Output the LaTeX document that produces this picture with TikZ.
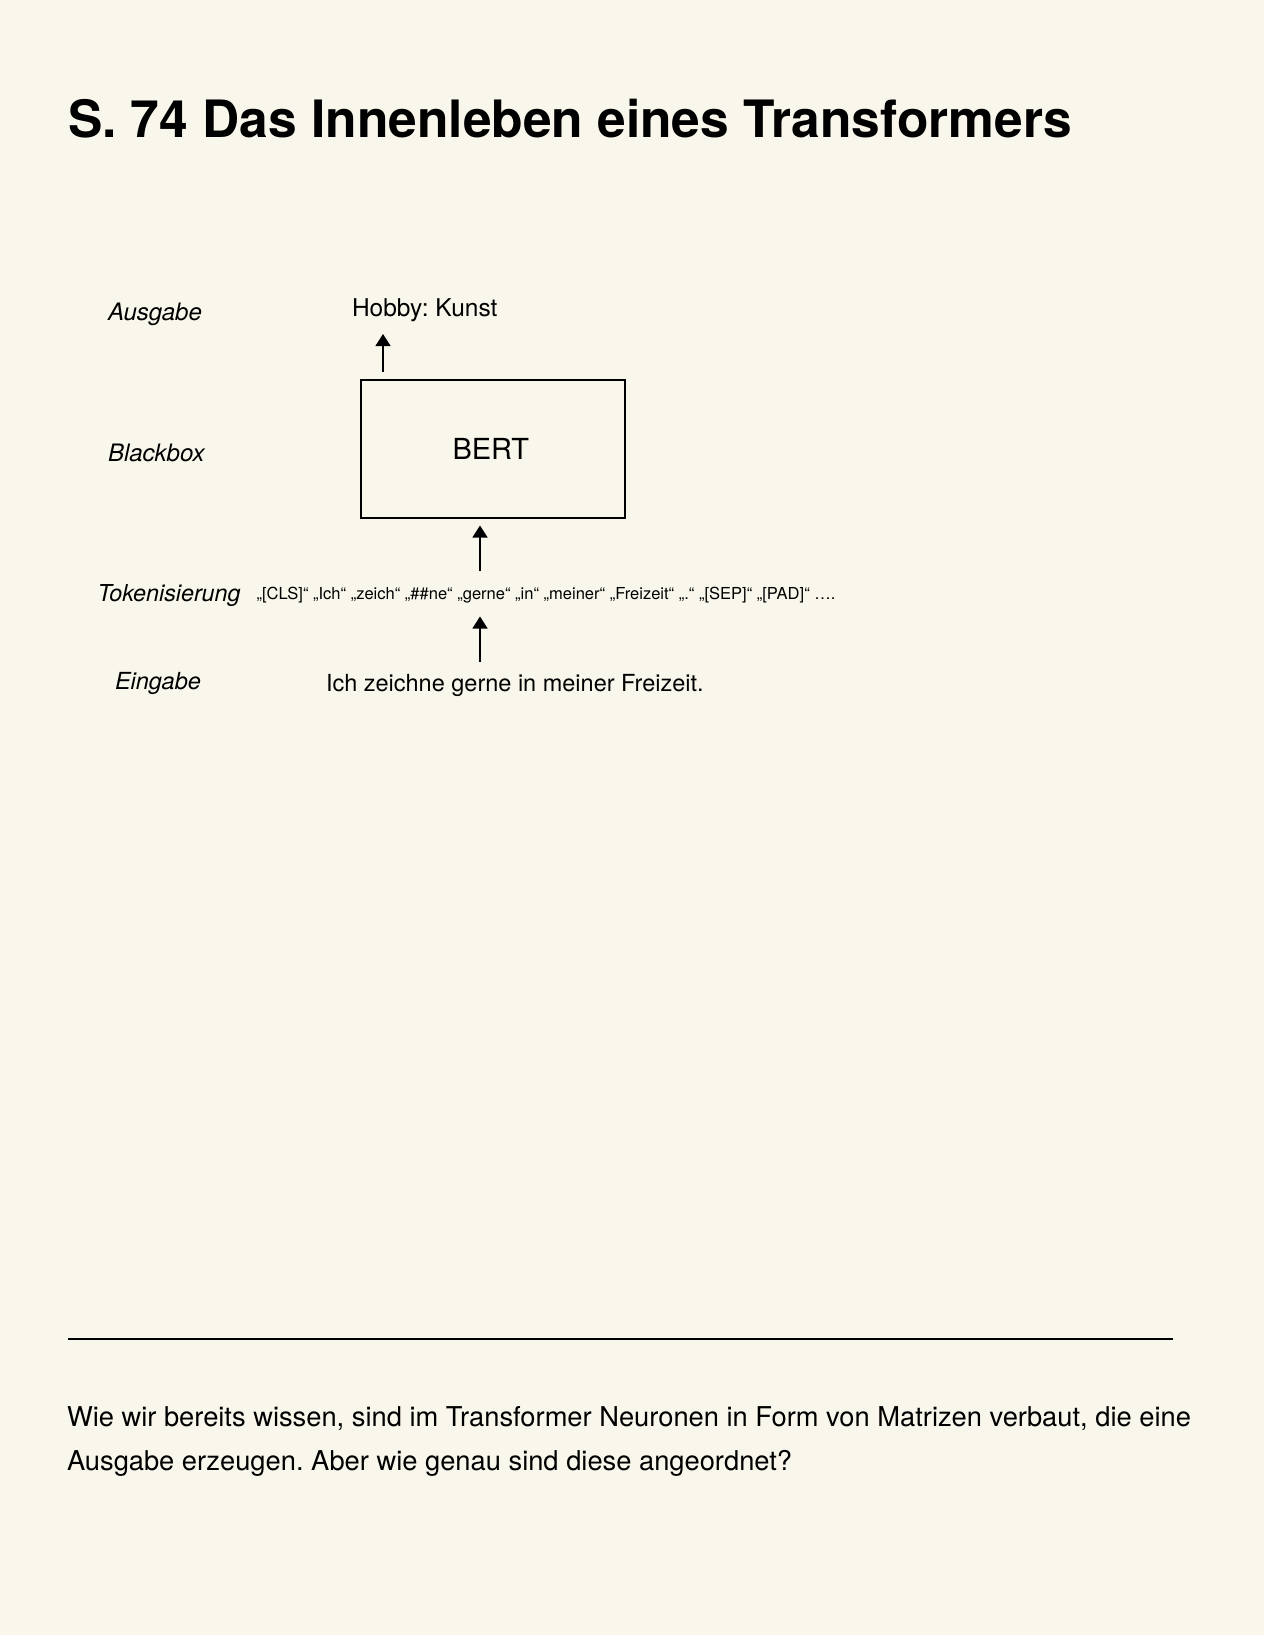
\documentclass[tikz,border=0pt]{standalone}
\usepackage{fontspec}
\setmainfont{TeX Gyre Heros}
\usetikzlibrary{arrows.meta}
\definecolor{paper}{RGB}{249,247,235}
\tikzset{
  txt/.style={anchor=base west, inner sep=0pt, outer sep=0pt},
  lbl/.style={txt, font=\fontsize{24}{28}\selectfont\itshape},
  arr/.style={line width=1.3pt, -{Triangle[width=15pt,length=12pt]}},
  bbox/.style={draw, line width=1.6pt, minimum width=264pt, minimum height=138pt, inner sep=0pt, anchor=north west}
}
\begin{document}
\frenchspacing
\begin{tikzpicture}[x=1pt,y=-1pt]
\fill[paper] (0,0) rectangle (1264,1635);
\useasboundingbox (0,0) rectangle (1264,1635);
\node[txt, font=\fontsize{51.5}{60}\selectfont\bfseries] (title) at (68,138) {S. 74 Das Innenleben eines Transformers};

\node[lbl] (ausgabe) at (108,320) {Ausgabe};
\node[lbl] (blackbox) at (108,461.5) {Blackbox};
\node[lbl, font=\fontsize{23.3}{28}\selectfont\itshape] (token) at (97.5,601) {Tokenisierung};
\node[lbl, font=\fontsize{23.5}{28}\selectfont\itshape] (eingabe) at (115,689.5) {Eingabe};

\node[txt, font=\fontsize{24.5}{28}\selectfont] (hobby) at (352,316) {Hobby: Kunst};
\node[bbox] (bert) at (360,379) {};
\node[txt, font=\fontsize{29}{34}\selectfont] (bertl) at (452.5,459) {BERT};
\node[txt, font=\fontsize{16.53}{20}\selectfont] (tokens) at (256.5,599.5) {„[CLS]“ „Ich“ „zeich“ „\#\#ne“ „gerne“ „in“ „meiner“ „Freizeit“ „.“ „[SEP]“ „[PAD]“ ….};
\node[txt, font=\fontsize{23.5}{28}\selectfont] (satz) at (326,691.5) {Ich zeichne gerne in meiner Freizeit.};

\coordinate (a1s) at (383,372);
\coordinate (a1e) at (383,334);
\coordinate (a2s) at (480,570.5);
\coordinate (a2e) at (480,525.5);
\coordinate (a3s) at (480,661.5);
\coordinate (a3e) at (480,616.5);
\draw[arr] (a1s) -- (a1e);
\draw[arr] (a2s) -- (a2e);
\draw[arr] (a3s) -- (a3e);

\coordinate (r1) at (68,1339);
\coordinate (r2) at (1173,1339);
\draw[line width=1.1pt] (r1) -- (r2);

\node[txt, font=\fontsize{27.3}{32}\selectfont] (p1) at (67,1426) {Wie wir bereits wissen, sind im Transformer Neuronen in Form von Matrizen verbaut, die eine};
\node[txt, font=\fontsize{27.3}{32}\selectfont] (p2) at (67,1470) {Ausgabe erzeugen. Aber wie genau sind diese angeordnet?};
\end{tikzpicture}
\end{document}
